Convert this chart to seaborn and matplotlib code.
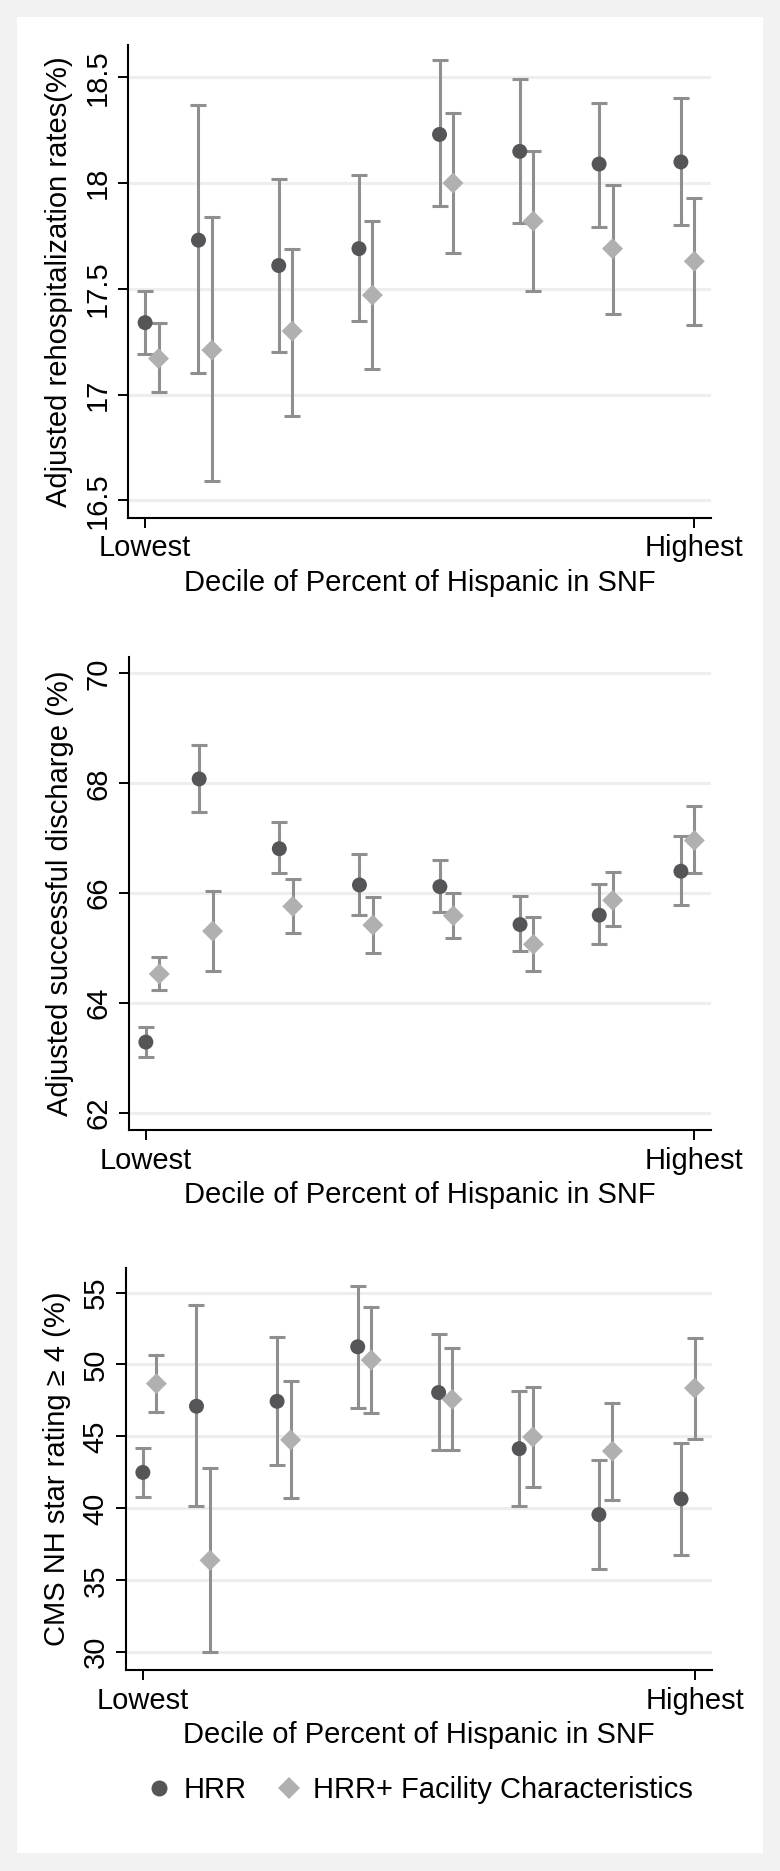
import numpy as np
import pandas as pd
import matplotlib
matplotlib.use("Agg")
import matplotlib.pyplot as plt
from matplotlib.patches import Rectangle
from matplotlib.lines import Line2D
import seaborn as sns

# --- data ---
decile_x = [1.0, 1.875, 3.19, 4.505, 5.825, 7.14, 8.44, 9.78]
fac_offset = 0.22
models = ["HRR", "HRR+ Facility Characteristics"]

rehosp_hrr = [17.34, 17.73, 17.61, 17.69, 18.23, 18.15, 18.09, 18.10]
rehosp_hrr_lo = [17.19, 17.10, 17.20, 17.35, 17.89, 17.81, 17.79, 17.80]
rehosp_hrr_hi = [17.49, 18.37, 18.02, 18.04, 18.58, 18.49, 18.38, 18.40]
rehosp_fac = [17.17, 17.21, 17.30, 17.47, 18.00, 17.82, 17.69, 17.63]
rehosp_fac_lo = [17.01, 16.59, 16.90, 17.12, 17.67, 17.49, 17.38, 17.33]
rehosp_fac_hi = [17.34, 17.84, 17.69, 17.82, 18.33, 18.15, 17.99, 17.93]

disch_hrr = [63.29, 68.08, 66.81, 66.15, 66.12, 65.43, 65.60, 66.40]
disch_hrr_lo = [63.02, 67.48, 66.36, 65.60, 65.65, 64.94, 65.07, 65.78]
disch_hrr_hi = [63.56, 68.70, 67.30, 66.72, 66.60, 65.95, 66.17, 67.04]
disch_fac = [64.53, 65.31, 65.76, 65.42, 65.59, 65.07, 65.87, 66.96]
disch_fac_lo = [64.23, 64.59, 65.27, 64.91, 65.18, 64.59, 65.40, 66.37]
disch_fac_hi = [64.84, 66.04, 66.25, 65.93, 66.01, 65.57, 66.38, 67.58]

star_hrr = [42.50, 47.10, 47.44, 51.23, 48.05, 44.15, 39.57, 40.66]
star_hrr_lo = [40.77, 40.16, 43.00, 46.96, 44.03, 40.16, 35.80, 36.75]
star_hrr_hi = [44.23, 54.11, 51.93, 55.47, 52.10, 48.16, 43.39, 44.54]
star_fac = [48.67, 36.39, 44.76, 50.31, 47.58, 44.96, 43.98, 48.36]
star_fac_lo = [46.71, 30.00, 40.74, 46.66, 44.06, 41.50, 40.60, 44.84]
star_fac_hi = [50.65, 42.81, 48.83, 54.02, 51.15, 48.44, 47.33, 51.87]

x_ticks = [1, 10]
x_ticklabels = ["Lowest", "Highest"]
x_label = "Decile of Percent of Hispanic in SNF"

panels = [
    dict(ylabel="Adjusted rehospitalization rates(%)",
         hrr=(rehosp_hrr, rehosp_hrr_lo, rehosp_hrr_hi),
         fac=(rehosp_fac, rehosp_fac_lo, rehosp_fac_hi),
         yticks=[16.5, 17, 17.5, 18, 18.5], yticklabels=["16.5", "17", "17.5", "18", "18.5"],
         ylim=(16.417, 18.653), box=(128, 45, 711.4, 517.8)),
    dict(ylabel="Adjusted successful discharge (%)",
         hrr=(disch_hrr, disch_hrr_lo, disch_hrr_hi),
         fac=(disch_fac, disch_fac_lo, disch_fac_hi),
         yticks=[62, 64, 66, 68, 70], yticklabels=["62", "64", "66", "68", "70"],
         ylim=(61.69, 70.29), box=(128.8, 657.5, 711.4, 1130)),
    dict(ylabel="CMS NH star rating \u2265 4 (%)",
         hrr=(star_hrr, star_hrr_lo, star_hrr_hi),
         fac=(star_fac, star_fac_lo, star_fac_hi),
         yticks=[30, 35, 40, 45, 50, 55], yticklabels=["30", "35", "40", "45", "50", "55"],
         ylim=(28.77, 56.67), box=(125.7, 1268.5, 711.7, 1670)),
]

COLORS = {"HRR": "#555558", "HRR+ Facility Characteristics": "#b0b0b0"}
MARKERS = {"HRR": "o", "HRR+ Facility Characteristics": "D"}
SIZES = {"HRR": 116, "HRR+ Facility Characteristics": 114}
CI_COLOR = "#8f8f8f"
FS = 21

sns.set_style("white")
plt.rcParams["font.family"] = ["Liberation Sans", "DejaVu Sans"]
plt.rcParams["font.size"] = FS
plt.rcParams["text.color"] = "black"
plt.rcParams["axes.labelcolor"] = "black"
plt.rcParams["xtick.color"] = "black"
plt.rcParams["ytick.color"] = "black"

W, H = 780, 1871
fig = plt.figure(figsize=(W / 100, H / 100), dpi=100, facecolor="#f2f2f2")
fig.patches.append(Rectangle((17 / W, 1 - 1853 / H), (763 - 17) / W, (1853 - 17) / H,
                             transform=fig.transFigure, facecolor="white",
                             edgecolor="none", zorder=-5))


def build_frame(p):
    rows = []
    for model, key, off in [(models[0], "hrr", 0.0), (models[1], "fac", fac_offset)]:
        est, lo, hi = p[key]
        for x, e, l, h in zip(decile_x, est, lo, hi):
            rows.append({"x": x + off, "est": e, "lo": l, "hi": h, "model": model})
    return pd.DataFrame(rows)


for i, p in enumerate(panels):
    l, t, r, b = p["box"]
    ax = fig.add_axes([l / W, 1 - b / H, (r - l) / W, (b - t) / H])
    ax.set_facecolor("none")
    df = build_frame(p)

    for model in models:
        d = df[df["model"] == model]
        ax.errorbar(d["x"], d["est"], yerr=[d["est"] - d["lo"], d["hi"] - d["est"]],
                    fmt="none", ecolor=CI_COLOR, elinewidth=2.2, capsize=5.6,
                    capthick=2.2, zorder=2)

    sns.scatterplot(data=df, x="x", y="est", hue="model", style="model",
                    size="model", sizes=SIZES,
                    palette=COLORS, markers=MARKERS, linewidth=0,
                    ax=ax, zorder=3, legend=False)

    ax.set_xlim(0.72, 10.28)
    ax.set_ylim(*p["ylim"])
    ax.set_xticks(x_ticks)
    ax.set_xticklabels(x_ticklabels)
    ax.set_yticks(p["yticks"])
    ax.set_yticklabels(p["yticklabels"], rotation=90, va="center")
    ax.set_xlabel(x_label, labelpad=4.5, fontsize=FS)
    ax.set_ylabel(p["ylabel"], labelpad=8, fontsize=FS)
    ax.yaxis.grid(True, color="#eeeeee", linewidth=2.2)
    ax.set_axisbelow(True)
    sns.despine(ax=ax)
    for s in ["left", "bottom"]:
        ax.spines[s].set_color("black")
        ax.spines[s].set_linewidth(1.5)
    ax.tick_params(axis="both", direction="out", length=7.5, width=1.4,
                   color="black", labelsize=FS, left=True, bottom=True)
    ax.tick_params(axis="y", pad=4)
    ax.tick_params(axis="x", pad=4.5)

handles = [Line2D([], [], linestyle="none", marker=MARKERS[m], color=COLORS[m],
                  markeredgewidth=0, markersize=11.5 if m == "HRR" else 11)
           for m in models]
fig.legend(handles, models, loc="center", ncol=2, frameon=False,
           bbox_to_anchor=(418.7 / W, 1 - 1790 / H), fontsize=FS,
           handlelength=1.0, handletextpad=0.35, columnspacing=0.95)

fig.savefig("out.png", dpi=100, facecolor=fig.get_facecolor())
